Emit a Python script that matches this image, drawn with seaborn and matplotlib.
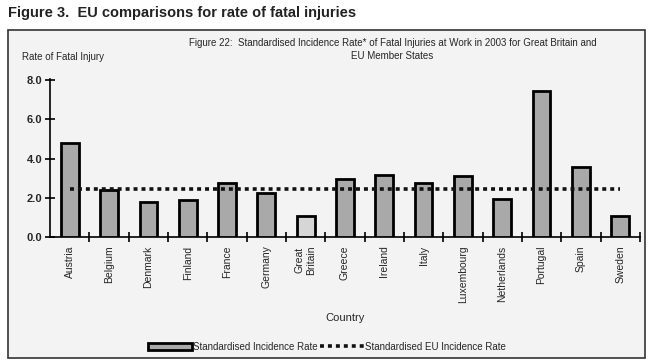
import matplotlib
matplotlib.use("Agg")
import matplotlib.pyplot as plt
import seaborn as sns
import pandas as pd
from matplotlib.patches import Rectangle, Patch
from matplotlib.lines import Line2D

# data
countries = ["Austria", "Belgium", "Denmark", "Finland", "France", "Germany",
             "Great\nBritain", "Greece", "Ireland", "Italy", "Luxembourg",
             "Netherlands", "Portugal", "Spain", "Sweden"]
rates = [4.8, 2.4, 1.8, 1.9, 2.75, 2.25, 1.05, 2.95, 3.15, 2.75, 3.1,
         1.95, 7.45, 3.55, 1.05]
eu_rate = 2.45
y_ticks = [0.0, 2.0, 4.0, 6.0, 8.0]

df = pd.DataFrame({"Country": countries, "Rate": rates})

sns.set_style("white")
plt.rcParams["font.family"] = ["Liberation Sans", "DejaVu Sans"]

bg = "#f3f3f3"
fig = plt.figure(figsize=(6.54, 3.62), dpi=100, facecolor="white")
ax = fig.add_axes([0.0765, 0.345, 0.902, 0.437])
ax.set_facecolor(bg)

# panel box
fig.patches.append(Rectangle((0.012, 0.012), 0.975, 0.905, transform=fig.transFigure,
                             facecolor=bg, edgecolor="#333333", lw=1.2, zorder=-1))

sns.barplot(data=df, x="Country", y="Rate", color="#a9a9a9", width=0.45,
            edgecolor="black", linewidth=2, saturation=1, ax=ax, zorder=3)
ax.patches[6].set_facecolor("#d6d6d6")

sns.lineplot(x=list(range(len(countries))), y=[eu_rate] * len(countries),
             color="#111111", lw=2.6, ax=ax, zorder=4)
ax.lines[-1].set_linestyle((0, (1.1, 1.1)))

ax.set_xlim(-0.5, len(countries) - 0.5)
ax.set_ylim(0, 8.05)
ax.set_yticks(y_ticks)
ax.set_yticklabels([f"{v:.1f}" for v in y_ticks], fontsize=8, fontweight="bold")
ax.set_xticks(range(len(countries)))
ax.set_xticklabels(countries, rotation=90, fontsize=7.5, va="top")
ax.tick_params(axis="x", which="major", bottom=True, length=0, pad=6)
ax.set_xticks([i + 0.5 for i in range(len(countries))], minor=True)
ax.tick_params(axis="x", which="minor", bottom=True, direction="inout",
               length=7, width=1.2, color="black")
ax.tick_params(axis="y", left=True, direction="inout", length=7, width=1.2,
               color="black", pad=2)
for s in ["top", "right"]:
    ax.spines[s].set_visible(False)
for s in ["left", "bottom"]:
    ax.spines[s].set_color("black")
    ax.spines[s].set_linewidth(1.2)
ax.set_xlabel("Country", fontsize=8, labelpad=7)
ax.set_ylabel("")

fig.text(0.012, 0.965, "Figure 3.  EU comparisons for rate of fatal injuries",
         fontsize=10.5, fontweight="bold", va="center", color="#222222")
fig.text(0.6, 0.88, "Figure 22:  Standardised Incidence Rate* of Fatal Injuries at Work in 2003 for Great Britain and",
         fontsize=7, ha="center", va="center")
fig.text(0.6, 0.845, "EU Member States", fontsize=7, ha="center", va="center")
fig.text(0.034, 0.842, "Rate of Fatal Injury", fontsize=7, va="center")

handles = [Patch(facecolor="#a9a9a9", edgecolor="black", lw=2),
           Line2D([0], [0], color="#111111", lw=2.6, ls=(0, (1.1, 1.1)))]
fig.legend(handles, ["Standardised Incidence Rate", "Standardised EU Incidence Rate"],
           loc="center", bbox_to_anchor=(0.5, 0.042), ncol=2, frameon=False,
           fontsize=7, handlelength=4.5, handletextpad=0.1, columnspacing=0.3)

fig.savefig("out.png", dpi=100, facecolor="white")
